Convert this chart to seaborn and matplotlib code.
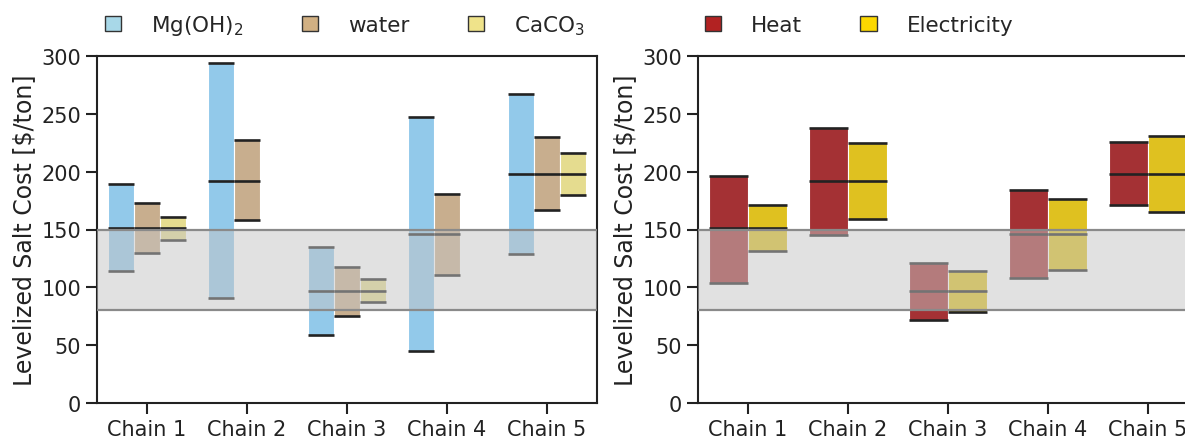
import numpy as np
import pandas as pd
import matplotlib
matplotlib.use("Agg")
import matplotlib.pyplot as plt
from matplotlib.patches import Patch
import seaborn as sns

# values ($/ton)
chains = ["Chain 1", "Chain 2", "Chain 3", "Chain 4", "Chain 5"]
base = [151, 192, 97, 146, 198]

mg_low = [114, 91, 59, 45, 129]
mg_high = [189, 294, 135, 247, 267]
water_low = [130, 158, 75, 111, 167]
water_high = [173, 227, 118, 181, 230]
caco3_low = [141, np.nan, 87, np.nan, 180]
caco3_high = [161, np.nan, 107, np.nan, 216]

heat_low = [104, 145, 72, 108, 171]
heat_high = [196, 238, 121, 184, 226]
elec_low = [131, 159, 79, 115, 165]
elec_high = [171, 225, 114, 176, 231]

band_low, band_high = 80, 150

left_labels = ["Mg(OH)$_2$", "water", "CaCO$_3$"]
right_labels = ["Heat", "Electricity"]

sns.set_style("ticks")
plt.rcParams['font.family'] = ['DejaVu Sans']


def make_df(labels, lows, highs):
    rows = []
    for lab, lo, hi in zip(labels, lows, highs):
        for i, c in enumerate(chains):
            rows.append(dict(chain=c, idx=i, source=lab, low=lo[i], high=hi[i], base=base[i]))
    return pd.DataFrame(rows)


left_df = make_df(left_labels, [mg_low, water_low, caco3_low], [mg_high, water_high, caco3_high])
right_df = make_df(right_labels, [heat_low, elec_low], [heat_high, elec_high])


def draw_panel(ax, df, labels, bar_colors, leg_colors, width, offsets, leg_x):
    for k, src in enumerate(labels):
        sub = df[df.source == src].dropna()
        x = sub.idx + offsets[k]
        ax.bar(x, sub.high - sub.low, bottom=sub.low, width=width,
               color=bar_colors[k], edgecolor="white", linewidth=0.8, zorder=2)
        for col in ["low", "high", "base"]:
            ax.hlines(sub[col], x - width / 2, x + width / 2, color="#222222", lw=1.9, zorder=3)
    ax.axhspan(band_low, band_high, color="#c5c5c5", alpha=0.5, lw=0, zorder=4)
    ax.axhline(band_low, color="#8a8a8a", lw=1.6, zorder=5)
    ax.axhline(band_high, color="#8a8a8a", lw=1.6, zorder=5)

    ax.set_xlim(-0.5, 4.5)
    ax.set_ylim(0, 300)
    ax.set_yticks(range(0, 301, 50))
    ax.set_xticks(range(len(chains)))
    ax.set_xticklabels(chains)
    ax.tick_params(labelsize=15, length=8, width=1.5, colors="#222222")
    ax.set_ylabel("Levelized Salt Cost [$/ton]", fontsize=17, color="#222222", labelpad=4)
    for sp in ax.spines.values():
        sp.set_linewidth(1.5)
        sp.set_color("#222222")

    handles = [Patch(facecolor=c, edgecolor="#333333", lw=1) for c in leg_colors]
    ax.legend(handles, labels, ncol=len(labels), frameon=False, loc="center left",
              bbox_to_anchor=(leg_x, 1.089), borderaxespad=0, borderpad=0,
              handlelength=0.75, handleheight=0.75, handletextpad=1.4,
              columnspacing=2.7, fontsize=15.5)


fig = plt.figure(figsize=(11.85, 4.39), dpi=100)
ax1 = fig.add_axes([97 / 1185, 35 / 439, 500 / 1185, 347 / 439])
ax2 = fig.add_axes([698 / 1185, 35 / 439, 500 / 1185, 347 / 439])

draw_panel(ax1, left_df, left_labels,
           ["#92c9ea", "#c8ae8e", "#e5dc8f"],
           ["#a8d8e8", "#d1b083", "#efe38a"],
           0.26, [-0.26, 0, 0.26], 0.016)
draw_panel(ax2, right_df, right_labels,
           ["#a43134", "#dfc120"],
           ["#b22222", "#fcd800"],
           0.39, [-0.195, 0.195], 0.014)

fig.savefig("out.png", dpi=100)
